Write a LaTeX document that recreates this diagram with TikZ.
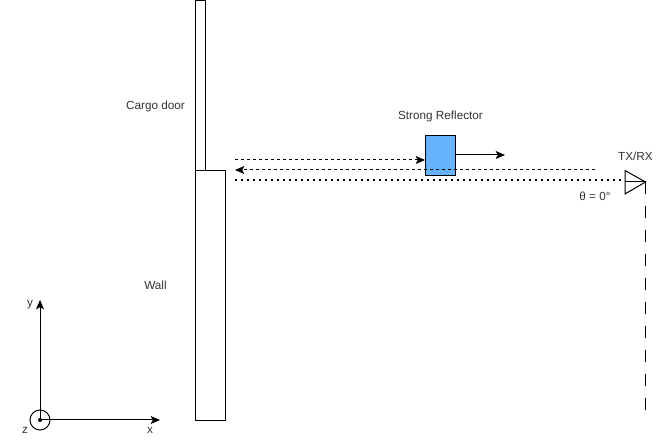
\documentclass[tikz,border=0pt]{standalone}
\usepackage{fontspec}
\setmainfont{Liberation Sans}
\usetikzlibrary{arrows.meta}
\definecolor{boxblue}{HTML}{66B2FF}
\definecolor{labelgrey}{HTML}{333333}
\tikzset{
  every picture/.style={x=0.75pt,y=-0.75pt},
  plain/.style={draw=black,line width=0.75pt},
  conn/.style={plain,-{Stealth[length=7pt,width=6pt,inset=1.6pt]}},
  shortdash/.style={dash pattern=on 2.25pt off 2.25pt},
  dots/.style={line width=1.3pt,dash pattern=on 1.5pt off 3pt},
  lab/.style={inner sep=0pt,font=\fontsize{8.8pt}{10pt}\selectfont,text=labelgrey},
  boxnode/.style={plain,minimum width=0pt,minimum height=0pt,inner sep=0pt,anchor=north west}
}
\begin{document}
\begin{tikzpicture}
\useasboundingbox (0,0) rectangle (665,441);
% door and wall
\node[boxnode,minimum width=7.5pt,minimum height=127.5pt] (door) at (195,0) {};
\node[boxnode,minimum width=22.5pt,minimum height=187.5pt] (wall) at (195,170) {};
% reflector
\node[boxnode,fill=boxblue,minimum width=22.5pt,minimum height=30pt] (refl) at (425,135) {};
% antenna
\coordinate (txl) at (625,182);
\coordinate (txtip) at (645.5,182);
\coordinate (txt) at (625,170.5);
\coordinate (txb) at (625,194);
\draw[plain,line join=miter] (txt) -- (txtip) -- (txb) -- cycle;
\draw[plain] (txl) -- (txtip);
% coordinates of free ends
\coordinate (wallA) at (235,160);
\coordinate (wallB) at (235,170);
\coordinate (wallC) at (235,180);
\coordinate (txB) at (595,170);
\coordinate (txC) at (625,180);
\coordinate (reflTip) at (505,155);
\coordinate (bottom) at (645.5,410);
\draw[conn,shortdash] (wallA) -- (refl.west |- wallA);
\draw[conn,shortdash] (txB) -- (wallB);
\draw[plain,dots] (wallC) -- (txC);
\draw[conn] (refl.east |- reflTip) -- (reflTip);
\draw[plain,dash pattern=on 9pt off 9pt] (txtip) -- (bottom);
% axes
\coordinate (origin) at (40,420);
\coordinate (yend) at (40,300);
\coordinate (xend) at (160,420);
\draw[conn] (origin) -- (yend);
\draw[conn] (origin) -- (xend);
\draw[plain] (origin) circle[radius=7.5pt];
\fill (origin) circle[radius=1.5pt];
% labels
\node[lab] (cargo) at (155.5,106) {Cargo door};
\node[lab] (walllab) at (155.5,285) {Wall};
\node[lab] (strong) at (440.5,116) {Strong Reflector};
\node[lab] (txrx) at (635.5,156) {TX/RX};
\node[lab] (theta) at (595,196) {θ = 0°};
\node[lab] (ylab) at (30,305) {y};
\node[lab] (xlab) at (150,430) {x};
\node[lab] (zlab) at (25,430) {z};
\end{tikzpicture}
\end{document}
